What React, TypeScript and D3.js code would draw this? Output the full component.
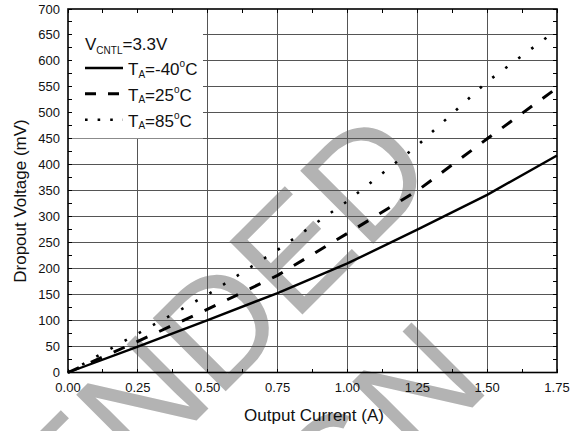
import React from "react";
import * as d3 from "d3";

const currents = [0, 0.25, 0.5, 0.75, 1.0, 1.25, 1.5, 1.75];
const vMinus40 = [0, 50, 101, 153, 210, 275, 342, 418];
const v25 = [0, 60, 122, 187, 268, 350, 450, 548];
const v85 = [0, 75, 150, 236, 330, 437, 560, 660];

const xTicks = [0, 0.25, 0.5, 0.75, 1.0, 1.25, 1.5, 1.75];
const xTickLabels = ["0.00", "0.25", "0.50", "0.75", "1.00", "1.25", "1.50", "1.75"];
const yTicks = [0, 50, 100, 150, 200, 250, 300, 350, 400, 450, 500, 550, 600, 650, 700];
const xMinorTicks = [0.125, 0.375, 0.625, 0.875, 1.125, 1.375, 1.625];
const yMinorTicks = [25, 75, 125, 175, 225, 275, 325, 375, 425, 475, 525, 575, 625, 675];

const seriesNames = ["-40", "25", "85"];
const watermarkLines = ["NOT RECOMMENDED", "FOR NEW DESIGN"];

const W = 582;
const H = 431;
const L = 68, R = 557, T = 9, B = 372.5;
const FONT = "'Liberation Sans', Arial, Helvetica, sans-serif";

export default function App() {
  const x = d3.scaleLinear().domain([0, 1.75]).range([L, R]);
  const y = d3.scaleLinear().domain([0, 700]).range([B, T]);
  const line = d3
    .line<[number, number]>()
    .x((d) => x(d[0]))
    .y((d) => y(d[1]));
  const series = [vMinus40, v25, v85].map((vals) =>
    currents.map((c, i) => [c, vals[i]] as [number, number])
  );
  const styles = [
    { w: 2.4, dash: undefined as string | undefined },
    { w: 3, dash: "12,13" },
    { w: 2.6, dash: "2.6,13.6" },
  ];
  const legendDash = [undefined, "11,12", "2.6,10"];

  // watermark baselines (end points)
  const wm = [
    { x: 441, y: 176 },
    { x: 493, y: 387 },
  ];

  const legendRows = [75, 100.7, 126.7];

  return (
    <div style={{ position: "absolute", left: 0, top: 0 }}>
      <svg width={W} height={H} style={{ display: "block" }} fontFamily={FONT}>
        <rect x={0} y={0} width={W} height={H} fill="#fff" />
        {/* watermark */}
        {watermarkLines.map((t, i) => (
          <text
            key={i}
            transform={`translate(${wm[i].x},${wm[i].y}) rotate(-45)`}
            textAnchor="end"
            fontSize={150}
            fill="#b3b3b3"
          >
            {t}
          </text>
        ))}
        {/* grid */}
        <g stroke="#555" strokeWidth={1} shapeRendering="crispEdges">
          {xTicks.slice(1, -1).map((v) => (
            <line key={"gx" + v} x1={x(v)} x2={x(v)} y1={T} y2={B} />
          ))}
          {yTicks.slice(1, -1).map((v) => (
            <line key={"gy" + v} x1={L} x2={R} y1={y(v)} y2={y(v)} />
          ))}
        </g>
        {/* curves */}
        {series.map((s, i) => (
          <path
            key={seriesNames[i]}
            d={line(s) || ""}
            fill="none"
            stroke="#000"
            strokeWidth={styles[i].w}
            strokeDasharray={styles[i].dash}
            strokeLinejoin="round"
          />
        ))}
        {/* legend box */}
        <rect x={L} y={T} width={135} height={y(450) - T - 0.5} fill="#fff" />
        {/* ticks */}
        <g stroke="#000" strokeWidth={1} shapeRendering="crispEdges">
          {xTicks.concat(xMinorTicks).map((v) => (
            <g key={"tx" + v}>
              <line x1={x(v)} x2={x(v)} y1={B} y2={B - 4} />
              <line x1={x(v)} x2={x(v)} y1={T} y2={T + 4} />
            </g>
          ))}
          {yTicks.concat(yMinorTicks).map((v) => (
            <g key={"ty" + v}>
              <line x1={L} x2={L + 4} y1={y(v)} y2={y(v)} />
              <line x1={R} x2={R - 4} y1={y(v)} y2={y(v)} />
            </g>
          ))}
        </g>
        {/* frame */}
        <rect x={L} y={T} width={R - L} height={B - T} fill="none" stroke="#000" strokeWidth={1.6} />
        {/* tick labels */}
        <g fontSize={13} fill="#111">
          {xTicks.map((v, i) => (
            <text key={"xl" + v} x={x(v)} y={392} textAnchor="middle">
              {xTickLabels[i]}
            </text>
          ))}
          {yTicks.map((v) => (
            <text key={"yl" + v} x={60} y={y(v) + 4.5} textAnchor="end">
              {v}
            </text>
          ))}
        </g>
        {/* axis titles */}
        <text x={314} y={421} textAnchor="middle" fontSize={17} fill="#111">
          Output Current (A)
        </text>
        <text
          transform="translate(26,201) rotate(-90)"
          textAnchor="middle"
          fontSize={17}
          fill="#111"
        >
          Dropout Voltage (mV)
        </text>
        {/* legend */}
        <g fill="#111" fontSize={17}>
          <text x={85} y={49.5}>
            V
            <tspan fontSize={10} dy={4}>CNTL</tspan>
            <tspan dy={-4}>=3.3V</tspan>
          </text>
          {seriesNames.map((n, i) => (
            <g key={"lg" + n}>
              <line
                x1={85}
                x2={123}
                y1={legendRows[i] - 7}
                y2={legendRows[i] - 7}
                stroke="#000"
                strokeWidth={styles[i].w}
                strokeDasharray={legendDash[i]}
              />
              <text x={128} y={legendRows[i]}>
                T
                <tspan fontSize={10} dy={2.5}>A</tspan>
                <tspan dy={-2.5}>={n}</tspan>
                <tspan fontSize={10} dy={-8}>o</tspan>
                <tspan dy={8}>C</tspan>
              </text>
            </g>
          ))}
        </g>
      </svg>
    </div>
  );
}
